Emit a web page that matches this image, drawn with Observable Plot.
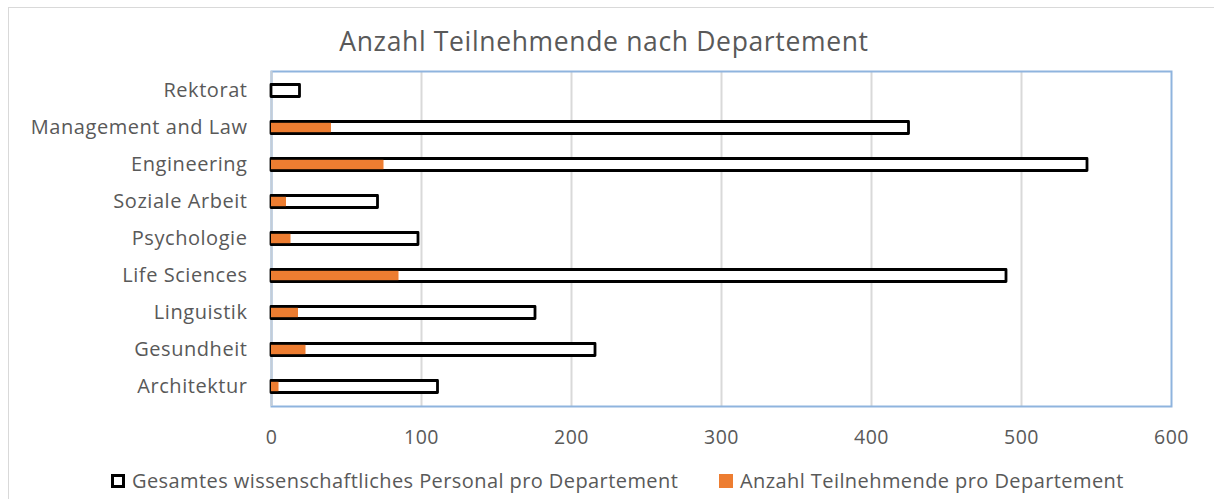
<!DOCTYPE html>
<html>
<head>
<meta charset="utf-8">
<script src="https://cdn.jsdelivr.net/npm/d3@7"></script>
<script src="https://cdn.jsdelivr.net/npm/@observablehq/plot@0.6"></script>
<style>
  html, body { margin: 0; padding: 0; background: #fff; overflow: hidden; }
  #wrap { position: relative; width: 1214px; height: 499px; font-family: "Open Sans", sans-serif; color: #595959; }
  #outer { position: absolute; left: 8px; top: 7px; width: 1220px; height: 510px; border: 1.5px solid #d9d9d9; box-sizing: border-box; }
  #title { position: absolute; left: 0; width: 1208px; top: 25px; text-align: center; font-size: 26.5px; line-height: 32px; letter-spacing: 0.65px; }
  #chart { position: absolute; left: 0; top: 0; }
  #chart svg text { letter-spacing: 0.55px; }
  .leg { position: absolute; top: 468px; font-size: 20px; line-height: 26px; display: flex; align-items: center; white-space: nowrap; letter-spacing: 0.42px; }
  .sw { width: 14px; height: 14px; box-sizing: border-box; margin-right: 7px; }
</style>
</head>
<body>
<div id="wrap">
  <div id="outer"></div>
  <div id="chart"></div>
  <div id="title"></div>
  <div class="leg" id="leg1" style="left:111px"><div class="sw" style="border:3px solid #000;background:#fff"></div><span></span></div>
  <div class="leg" id="leg2" style="left:719px"><div class="sw" style="background:#ed7d31"></div><span></span></div>
</div>
<script>
const title = "Anzahl Teilnehmende nach Departement";
const categories = ["Rektorat", "Management and Law", "Engineering", "Soziale Arbeit", "Psychologie", "Life Sciences", "Linguistik", "Gesundheit", "Architektur"];
const totalStaff = [19, 425, 544, 71, 98, 490, 176, 216, 111];
const participants = [0, 40, 75, 10, 13, 85, 18, 23, 5];
const seriesNames = ["Gesamtes wissenschaftliches Personal pro Departement", "Anzahl Teilnehmende pro Departement"];
const xTicks = [0, 100, 200, 300, 400, 500, 600];

const totals = categories.map((c, i) => ({cat: c, value: totalStaff[i]}));
const parts = categories.map((c, i) => ({cat: c, value: participants[i]}));

document.getElementById("title").textContent = title;
document.querySelector("#leg1 span").textContent = seriesNames[0];
document.querySelector("#leg2 span").textContent = seriesNames[1];

const chart = Plot.plot({
  width: 1214,
  height: 450,
  marginTop: 71,
  marginBottom: 44,
  marginLeft: 271,
  marginRight: 43,
  style: {fontFamily: "'Open Sans', sans-serif", fontSize: "20px", color: "#595959", background: "transparent", overflow: "visible"},
  x: {domain: [0, 600], ticks: xTicks, tickSize: 0, tickPadding: 24, label: null},
  y: {domain: categories, padding: 0, tickSize: 0, tickPadding: 24, label: null},
  marks: [
    Plot.gridX(xTicks.slice(1, -1), {stroke: "#d9d9d9", strokeOpacity: 1, strokeWidth: 2}),
    Plot.frame({stroke: "#8fb4de", strokeWidth: 2}),
    Plot.ruleX([0], {stroke: "#c3cdd8", strokeWidth: 2}),
    Plot.barX(totals, {x: "value", y: "cat", fill: "#fff", stroke: "#000", strokeWidth: 2.8, strokeLinejoin: "round", insetTop: 12.5, insetBottom: 12.5}),
    Plot.barX(parts, {x: "value", y: "cat", fill: "#ed7d31", insetTop: 13.8, insetBottom: 13.8}),
    Plot.axisX(xTicks, {tickSize: 0, tickPadding: 24, fill: "#595959", fontSize: 19.5}),
    Plot.axisY({tickSize: 0, tickPadding: 24, fill: "#595959", fontSize: 20})
  ]
});
document.getElementById("chart").appendChild(chart);
</script>
</body>
</html>
